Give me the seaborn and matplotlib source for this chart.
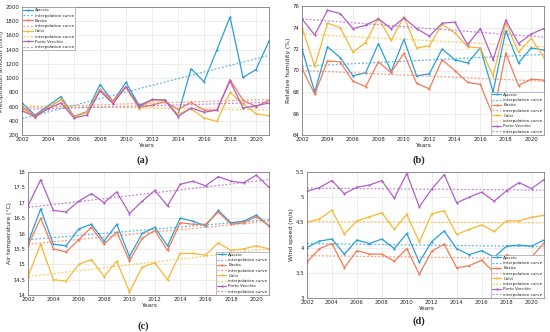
import numpy as np
import pandas as pd
import matplotlib
matplotlib.use("Agg")
import matplotlib.pyplot as plt
import seaborn as sns

years = list(range(2002, 2022))
stations = ["Ajaccio", "Bastia", "Calvi", "Porto Vecchio"]

# (a) precipitation (mm)
precip_ajaccio = [650, 480, 610, 740, 460, 530, 910, 670, 940, 620, 690, 690, 480, 1130, 950, 1400, 1860, 1010, 1120, 1520]
precip_bastia = [600, 470, 580, 700, 460, 520, 840, 680, 880, 590, 620, 670, 560, 660, 550, 550, 980, 690, 600, 690]
precip_calvi = [580, 440, 580, 700, 450, 520, 830, 650, 870, 570, 690, 680, 490, 570, 440, 390, 800, 640, 500, 470]
precip_porto = [540, 460, 570, 650, 440, 480, 820, 640, 880, 600, 700, 690, 460, 580, 520, 550, 960, 580, 610, 650]
precip_trend_start = [430, 590, 610, 560]
precip_trend_end = [1320, 700, 550, 660]

# (b) relative humidity (%)
rh_ajaccio = [72.0, 68.0, 72.2, 71.2, 69.5, 69.8, 72.5, 69.9, 72.9, 69.5, 69.7, 72.0, 71.0, 70.7, 72.1, 68.0, 73.7, 70.7, 72.1, 71.9]
rh_bastia = [70.2, 67.8, 70.9, 70.8, 69.0, 68.5, 70.8, 69.8, 71.6, 68.8, 68.3, 71.0, 70.0, 68.9, 68.7, 65.8, 71.6, 68.6, 69.2, 69.1]
rh_calvi = [74.0, 70.4, 74.4, 74.0, 71.7, 72.6, 74.9, 72.8, 75.0, 72.1, 72.3, 74.3, 73.5, 72.2, 72.1, 69.5, 74.4, 71.7, 73.0, 71.2]
rh_porto = [74.8, 73.3, 75.6, 75.3, 73.9, 74.2, 74.8, 73.9, 74.9, 73.9, 73.2, 74.4, 74.5, 72.4, 73.9, 71.0, 74.7, 72.5, 73.4, 73.9]
rh_trend_start = [70.4, 70.0, 73.4, 74.8]
rh_trend_end = [71.5, 69.0, 72.2, 73.1]

# (c) air temperature (°C)
t_ajaccio = [15.7, 16.8, 15.65, 15.6, 16.15, 16.3, 15.75, 16.3, 15.25, 16.0, 16.2, 15.6, 16.5, 16.4, 16.25, 16.75, 16.35, 16.4, 16.6, 16.25]
t_bastia = [15.6, 16.5, 15.5, 15.4, 15.8, 16.2, 15.65, 16.05, 15.1, 15.85, 16.1, 15.45, 16.35, 16.3, 16.3, 16.7, 16.3, 16.35, 16.55, 16.25]
t_calvi = [14.6, 15.65, 14.5, 14.45, 15.0, 15.15, 14.6, 15.1, 14.1, 14.9, 15.05, 14.5, 15.35, 15.35, 15.3, 15.7, 15.45, 15.5, 15.6, 15.5]
t_porto = [16.9, 17.75, 16.75, 16.7, 17.05, 17.3, 17.0, 17.35, 16.65, 17.05, 17.4, 16.9, 17.6, 17.7, 17.55, 17.85, 17.7, 17.65, 17.9, 17.5]
t_trend_start = [15.8, 15.65, 14.6, 16.85]
t_trend_end = [16.45, 16.4, 15.5, 17.75]

# (d) wind speed (m/s)
w_ajaccio = [4.0, 4.13, 4.17, 3.87, 4.15, 4.08, 4.17, 3.98, 4.28, 3.71, 4.12, 4.33, 3.98, 3.86, 3.94, 3.81, 4.03, 4.05, 4.03, 4.15]
w_bastia = [3.71, 3.98, 4.08, 3.60, 3.94, 3.87, 3.87, 3.73, 3.98, 3.47, 3.93, 4.07, 3.60, 3.64, 3.75, 3.51, 3.86, 3.78, 3.81, 4.09]
w_calvi = [4.50, 4.57, 4.74, 4.27, 4.53, 4.61, 4.69, 4.36, 4.66, 4.11, 4.67, 4.73, 4.26, 4.36, 4.45, 4.32, 4.53, 4.53, 4.60, 4.64]
w_porto = [5.12, 5.19, 5.33, 5.07, 5.20, 5.24, 5.33, 4.98, 5.47, 4.81, 5.16, 5.45, 4.89, 5.00, 5.10, 4.92, 5.13, 5.29, 5.17, 5.35]
w_trend_start = [4.08, 3.84, 4.52, 5.18]
w_trend_end = [4.02, 3.78, 4.49, 5.14]

colors = ["#2a9fd8", "#f47a55", "#f7b733", "#b25ec8"]

sns.set_theme(style="whitegrid")
plt.rcParams["font.family"] = ["DejaVu Sans"]

fig = plt.figure(figsize=(5.5, 3.32), dpi=100)

panels = [
    dict(series=[precip_ajaccio, precip_bastia, precip_calvi, precip_porto],
         ts=precip_trend_start, te=precip_trend_end, ylim=(200, 2000), yticks=np.arange(200, 2001, 200),
         ylabel="Precipitation amount (mm)", rect=[22, 7, 247, 128], leg="upper left", tag="(a)", tagpos=(143, 160)),
    dict(series=[rh_ajaccio, rh_bastia, rh_calvi, rh_porto],
         ts=rh_trend_start, te=rh_trend_end, ylim=(64, 76), yticks=np.arange(64, 77, 2),
         ylabel="Relative humidity (%)", rect=[302, 6, 242, 129], leg="lower right", tag="(b)", tagpos=(419, 160)),
    dict(series=[t_ajaccio, t_bastia, t_calvi, t_porto],
         ts=t_trend_start, te=t_trend_end, ylim=(14, 18), yticks=np.arange(14, 18.01, 0.5),
         ylabel="Air temperature (°C)", rect=[28, 172, 241, 123], leg="lower right", tag="(c)", tagpos=(143, 326)),
    dict(series=[w_ajaccio, w_bastia, w_calvi, w_porto],
         ts=w_trend_start, te=w_trend_end, ylim=(3, 5.5), yticks=np.arange(3, 5.51, 0.5),
         ylabel="Wind speed (m/s)", rect=[307, 172, 237, 126], leg="lower right", tag="(d)", tagpos=(419, 321)),
]

W, H = 550, 332
for p in panels:
    l, t, w, h = p["rect"]
    ax = fig.add_axes([l / W, 1 - (t + h) / H, w / W, h / H])
    rows = []
    trows = []
    for name, vals, s, e in zip(stations, p["series"], p["ts"], p["te"]):
        for y, v in zip(years, vals):
            rows.append((name, y, v))
        trows.append((name, years[0], s))
        trows.append((name, years[-1], e))
    df = pd.DataFrame(rows, columns=["station", "year", "value"])
    tdf = pd.DataFrame(trows, columns=["station", "year", "value"])
    for i, name in enumerate(stations):
        sub = df[df.station == name]
        tsub = tdf[tdf.station == name]
        sns.lineplot(data=sub, x="year", y="value", ax=ax, color=colors[i], lw=0.9,
                     marker="o", markersize=1.6, markeredgewidth=0, label=name)
        sns.lineplot(data=tsub, x="year", y="value", ax=ax, color=colors[i], lw=0.9,
                     linestyle=(0, (1.5, 1.5)), alpha=0.75, label="interpolation curve")
    h_, l_ = ax.get_legend_handles_labels()
    leg = ax.legend(h_, l_, loc=p["leg"], fontsize=3.0, frameon=True, fancybox=False,
                    edgecolor="#888888", framealpha=1, handlelength=2.2, labelspacing=0.3,
                    borderpad=0.25, handletextpad=0.5, borderaxespad=0.1)
    leg.get_frame().set_linewidth(0.4)
    ax.set_xlim(2002, 2021)
    ax.set_xticks(range(2002, 2021, 2))
    ax.set_ylim(*p["ylim"])
    ax.set_yticks(p["yticks"])
    ax.set_yticklabels([f"{v:g}" for v in p["yticks"]])
    ax.set_xlabel("Years", fontsize=4.3, labelpad=1)
    ax.set_ylabel(p["ylabel"], fontsize=4.3, labelpad=1)
    ax.tick_params(axis="x", labelsize=3.9, pad=1.5, length=0)
    ax.tick_params(axis="y", labelsize=3.9, pad=2, length=0)
    ax.grid(True, color="#e6e6e6", lw=0.5)
    for sp in ax.spines.values():
        sp.set_color("#666666")
        sp.set_linewidth(0.5)
    fig.text(p["tagpos"][0] / W, 1 - p["tagpos"][1] / H, p["tag"], ha="center", va="center",
             fontsize=7.5, family="Liberation Serif", fontweight="bold")

fig.savefig("out.png", dpi=100)
